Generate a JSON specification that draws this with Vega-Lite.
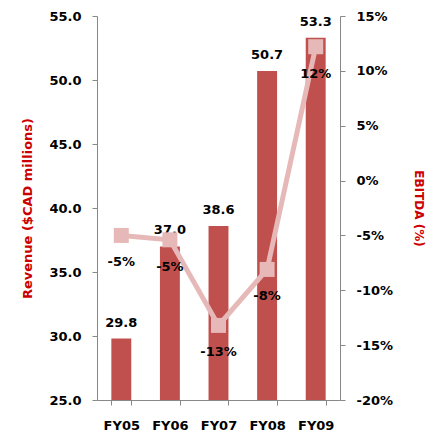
{
  "$schema": "https://vega.github.io/schema/vega-lite/v6.json",
  "width": 243,
  "height": 384,
  "autosize": {"type": "none"},
  "padding": {"left": 97, "top": 16, "right": 93, "bottom": 36},
  "config": {
    "view": {"stroke": null},
    "font": "DejaVu Sans",
    "axis": {
      "grid": false,
      "domainColor": "#888888",
      "tickColor": "#888888",
      "tickSize": 5,
      "labelFont": "DejaVu Sans",
      "labelFontSize": 13,
      "labelFontWeight": "bold",
      "labelColor": "#000000",
      "titleFont": "DejaVu Sans",
      "titleFontSize": 13,
      "titleFontWeight": "bold",
      "titleColor": "#CC0000"
    }
  },
  "data": {
    "values": [
      {"year": "FY05", "revenue": 29.8, "ebitda": -5.0},
      {"year": "FY06", "revenue": 37.0, "ebitda": -5.4},
      {"year": "FY07", "revenue": 38.6, "ebitda": -13.2},
      {"year": "FY08", "revenue": 50.7, "ebitda": -8.1},
      {"year": "FY09", "revenue": 53.3, "ebitda": 12.2}
    ]
  },
  "encoding": {
    "x": {
      "field": "year",
      "type": "nominal",
      "sort": null,
      "scale": {"paddingInner": 0.59, "paddingOuter": 0.295},
      "axis": {"title": null, "labelAngle": 0, "tickBand": "extent", "labelPadding": 14, "labelBaseline": "top"}
    }
  },
  "layer": [
    {
      "layer": [
        {
          "mark": {"type": "bar", "color": "#C0504D", "clip": true},
          "encoding": {
            "y": {
              "field": "revenue",
              "type": "quantitative",
              "scale": {"domain": [25, 55], "nice": false, "zero": false},
              "axis": {
                "title": "Revenue ($CAD millions)",
                "values": [25, 30, 35, 40, 45, 50, 55],
                "format": ".1f",
                "labelPadding": 11,
                "titlePadding": 14
              }
            }
          }
        },
        {
          "mark": {"type": "text", "baseline": "middle", "dy": -16, "fontSize": 13, "fontWeight": "bold", "color": "#000000"},
          "encoding": {
            "y": {"field": "revenue", "type": "quantitative"},
            "text": {"field": "revenue", "type": "quantitative", "format": ".1f"}
          }
        }
      ]
    },
    {
      "transform": [
        {"calculate": "(datum.ebitda < 0 ? '-' : '') + format(abs(datum.ebitda), '.0f') + '%'", "as": "elabel"}
      ],
      "layer": [
        {
          "mark": {"type": "line", "color": "#E6B9B8", "strokeWidth": 5},
          "encoding": {
            "y": {
              "field": "ebitda",
              "type": "quantitative",
              "scale": {"domain": [-20, 15], "nice": false, "zero": false},
              "axis": {
                "orient": "right",
                "title": "EBITDA (%)",
                "values": [-20, -15, -10, -5, 0, 5, 10, 15],
                "labelExpr": "(datum.value < 0 ? '-' : '') + abs(datum.value) + '%'",
                "labelPadding": 11,
                "titlePadding": 19,
                "titleFontSize": 12
              }
            }
          }
        },
        {
          "mark": {"type": "square", "color": "#E6B9B8", "opacity": 1, "size": 225},
          "encoding": {
            "y": {"field": "ebitda", "type": "quantitative"}
          }
        },
        {
          "mark": {"type": "text", "baseline": "middle", "dy": 27, "fontSize": 13, "fontWeight": "bold", "color": "#000000"},
          "encoding": {
            "y": {"field": "ebitda", "type": "quantitative"},
            "text": {"field": "elabel", "type": "nominal"}
          }
        }
      ]
    }
  ],
  "resolve": {"scale": {"y": "independent"}}
}
